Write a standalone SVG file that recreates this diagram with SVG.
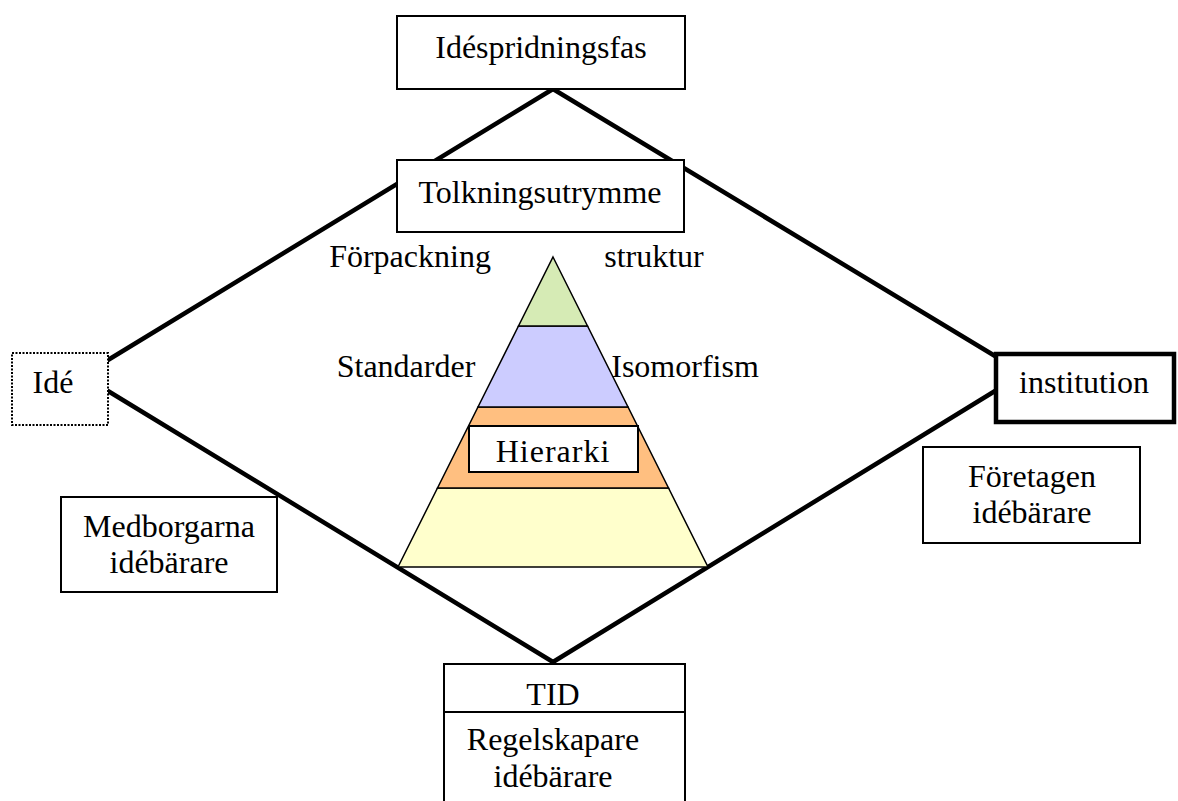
<svg xmlns="http://www.w3.org/2000/svg" width="1178" height="801" viewBox="0 0 1178 801">
<style>
text{font-family:"Liberation Serif","Times New Roman",serif;font-size:32px;fill:#000;text-anchor:middle}
.box{fill:#fff;stroke:#000;stroke-width:2}
.conn{stroke:#000;stroke-width:4.5;fill:none;stroke-linecap:round}
.band{stroke:#000;stroke-width:1.5}
</style>
<rect width="1178" height="801" fill="#fff"/>
<g id="connectors">
<line class="conn" x1="553" y1="89" x2="108" y2="360"/>
<line class="conn" x1="553" y1="89" x2="995" y2="356"/>
<line class="conn" x1="108" y1="391" x2="553" y2="662"/>
<line class="conn" x1="995" y1="391" x2="553" y2="662"/>
</g>
<g id="pyramid">
<polygon class="band" fill="#FFFFCC" points="437.5,488 668.5,488 708,567 398,567"/>
<polygon class="band" fill="#FFBF80" points="478,407 628,407 668.5,488 437.5,488"/>
<polygon class="band" fill="#CCCCFF" points="518.5,326 587.5,326 628,407 478,407"/>
<polygon class="band" fill="#D6EBB5" points="553,257 587.5,326 518.5,326"/>
</g>
<g id="hierarki">
<rect class="box" x="469" y="426" width="169" height="46" stroke-width="1.5"/>
<text x="553" y="462" font-size="30" letter-spacing="1">Hierarki</text>
</g>
<g id="idespridningsfas">
<rect class="box" x="397" y="16" width="288" height="73"/>
<text x="541" y="58">Idéspridningsfas</text>
</g>
<g id="tolkningsutrymme">
<rect class="box" x="397" y="160" width="287" height="72"/>
<text x="540" y="203">Tolkningsutrymme</text>
</g>
<g id="forpackning"><text x="410" y="267">Förpackning</text></g>
<g id="struktur"><text x="654" y="267">struktur</text></g>
<g id="standarder"><text x="406" y="377">Standarder</text></g>
<g id="isomorfism"><text x="685" y="377">Isomorfism</text></g>
<g id="ide">
<rect x="12" y="353" width="96" height="72" fill="#fff" stroke="#000" stroke-width="2" stroke-dasharray="2,1.5"/>
<text x="53" y="393">Idé</text>
</g>
<g id="institution">
<rect x="996" y="354" width="178" height="68" fill="#fff" stroke="#000" stroke-width="4.5"/>
<text x="1084" y="393">institution</text>
</g>
<g id="medborgarna">
<rect class="box" x="61" y="497" width="216" height="95"/>
<text x="169" y="537">Medborgarna</text>
<text x="169" y="573">idébärare</text>
</g>
<g id="foretagen">
<rect class="box" x="923" y="447" width="217" height="96"/>
<text x="1032" y="487">Företagen</text>
<text x="1032" y="523">idébärare</text>
</g>
<g id="tid">
<rect class="box" x="444" y="664" width="241" height="150"/>
<line x1="444" y1="712" x2="685" y2="712" stroke="#000" stroke-width="2"/>
<text x="553" y="705">TID</text>
<text x="553" y="750">Regelskapare</text>
<text x="553" y="787">idébärare</text>
</g>
</svg>
